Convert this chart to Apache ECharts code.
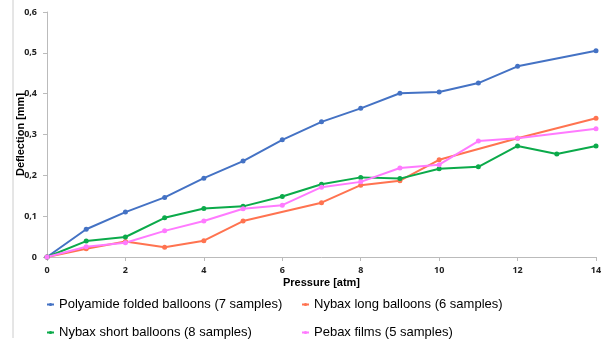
<!DOCTYPE html>
<html><head><meta charset="utf-8">
<script src="https://cdn.jsdelivr.net/npm/echarts@6/dist/echarts.min.js"></script>
<style>html,body{margin:0;padding:0;background:#fff}#c{width:609px;height:345px}</style>
</head><body><div id="c"></div>
<script>
const pressure = [0,1,2,3,4,5,6,7,8,9,10,11,12,13,14];
const polyamide = [0,0.068,0.110,0.146,0.193,0.235,0.287,0.331,0.364,0.401,0.404,0.426,0.467,null,0.505];
const nybaxLong = [0,0.020,0.038,0.024,0.040,0.088,null,0.133,0.176,0.187,0.238,null,0.291,null,0.340];
const nybaxShort = [0,0.039,0.049,0.096,0.119,0.124,0.148,0.178,0.195,0.192,0.216,0.221,0.272,0.252,0.272];
const pebax = [0,0.025,0.035,0.064,0.088,0.118,0.127,0.171,0.184,0.218,0.226,0.284,0.291,null,0.314];
const names = ['Polyamide folded balloons (7 samples)','Nybax long balloons (6 samples)','Nybax short balloons (8 samples)','Pebax films (5 samples)'];
const colors = ['#4472C4','#FF7350','#0BAA4A','#FF7AFF'];

const toPairs = arr => pressure.map((p,i)=>[p,arr[i]]).filter(d=>d[1]!==null);
const chart = echarts.init(document.getElementById('c'));
const mk = (name, arr, color) => ({
  name, type:'line', data: toPairs(arr), symbol:'circle', symbolSize:5,
  lineStyle:{width:2,color}, itemStyle:{color}, animation:false
});
const fmt = v => v===0 ? '0' : v.toFixed(1).replace('.',',');
const legText = {fontFamily:'Liberation Sans',fontSize:13,color:'#000'};
chart.setOption({
  animation:false,
  grid:{left:47,right:13,top:12,bottom:88,outerBoundsMode:'none',containLabel:false},
  xAxis:{type:'value',min:0,max:14,interval:2,
    name:'Pressure [atm]',nameLocation:'middle',nameGap:20,nameMoveOverlap:false,
    nameTextStyle:{fontFamily:'Liberation Sans',fontWeight:'bold',fontSize:11,color:'#000'},
    axisLine:{lineStyle:{color:'#bbb'}},axisTick:{show:true,length:4,lineStyle:{color:'#bbb'}},
    axisLabel:{fontFamily:'Open Sans',fontWeight:'bold',fontSize:9,color:'#222',margin:9},
    splitLine:{show:false}},
  yAxis:{type:'value',min:0,max:0.6,interval:0.1,
    name:'Deflection [mm]',nameLocation:'middle',nameGap:21,nameRotate:90,nameMoveOverlap:false,
    nameTextStyle:{fontFamily:'Liberation Sans',fontWeight:'bold',fontSize:11,color:'#000'},
    axisLine:{show:true,lineStyle:{color:'#bbb'}},axisTick:{show:true,length:4,lineStyle:{color:'#bbb'}},
    axisLabel:{fontFamily:'Open Sans',fontWeight:'bold',fontSize:9,color:'#222',margin:10,formatter:fmt},
    splitLine:{show:false}},
  legend:[
    {data:[names[0],names[2]],orient:'vertical',left:41,top:293,itemGap:15,itemWidth:7,itemHeight:4,
     textStyle:legText},
    {data:[names[1],names[3]],orient:'vertical',left:296,top:293,itemGap:15,itemWidth:7,itemHeight:4,
     textStyle:legText}
  ],
  graphic:[{type:'line',shape:{x1:13,y1:0,x2:13,y2:338},style:{stroke:'#ccc',lineWidth:1}}],
  series:[mk(names[0],polyamide,colors[0]),mk(names[1],nybaxLong,colors[1]),mk(names[2],nybaxShort,colors[2]),mk(names[3],pebax,colors[3])]
});
</script></body></html>
